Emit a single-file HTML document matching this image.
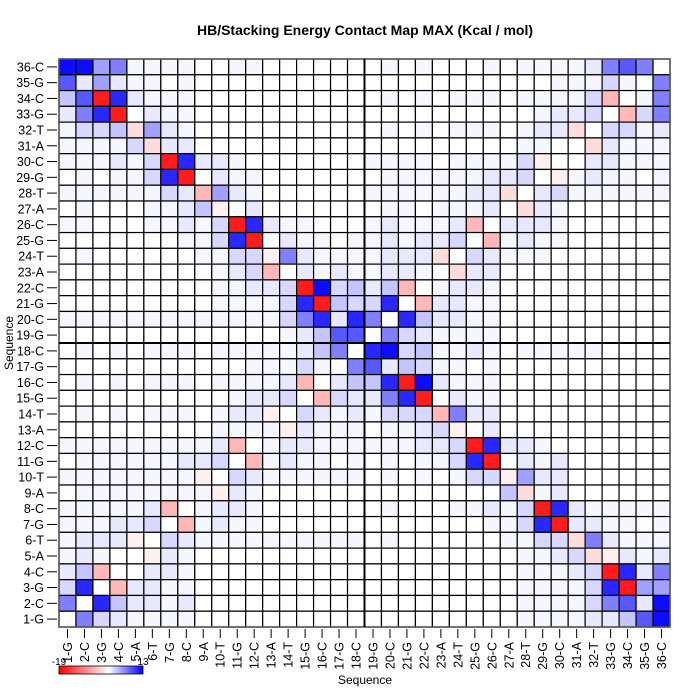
<!DOCTYPE html>
<html><head><meta charset="utf-8"><style>
html,body{margin:0;padding:0;background:#fff}
svg{display:block;font-family:"Liberation Sans",Arial,sans-serif}
</style></head><body>
<svg id="s" width="700" height="700" xmlns="http://www.w3.org/2000/svg">
<defs><linearGradient id="g" x1="0" x2="1" y1="0" y2="0">
<stop offset="0" stop-color="#ff0000"/><stop offset="0.59" stop-color="#ffffff"/><stop offset="1" stop-color="#0000ff"/></linearGradient></defs>
<text x="365" y="35" text-anchor="middle" font-size="14" font-weight="bold">HB/Stacking Energy Contact Map MAX (Kcal / mol)</text>
<text x="365" y="684" text-anchor="middle" font-size="12">Sequence</text>
<text transform="translate(13,343) rotate(-90)" text-anchor="middle" font-size="12">Sequence</text>
<rect x="59" y="666" width="84" height="8" fill="url(#g)" stroke="#000" stroke-width="0.8"/>
<text x="59" y="665" text-anchor="middle" font-size="10">-19</text>
<text x="143" y="665" text-anchor="middle" font-size="10">13</text>
<g id="cells"></g>
</svg>
<script>
var C={'.':'#f6f6ff','w':'#ffffff','v':'#e8e8ff','d':'#d8d8ff','l':'#c4c4ff','m':'#a0a0ff','b':'#8080ff','n':'#5858ff','B':'#2828ff','K':'#0c0cff','R':'#ff1c1c','r':'#ffb8b8','p':'#ffdcdc','q':'#fff0f0'};
var TL=[
"KKmb....ww..wwwwww",
"nvmv..w.wwwwwwwwww",
"lnRBv...wwwwwwwwww",
"vbBRwv..wwwwwwwwww",
".ddlpmv.wwwwwwwwww",
"....dpvvwwwwwwwwww",
"...v.dRBvv.wwwwwww",
"w.w..dBRwv..wwwwww",
"......dvrmv.wwwwww",
"w.www..vlqwvwwwwww",
"..www..v.dRBv..www",
"wwwwwww..dBRwv..w.",
"w.wwwwww..ddqbv...",
"wwwwwwwww.vdrwv.v.",
"wwwwwwwww..vvdRKdl",
"wwwwwwwww....dBRld",
".............dbBvB",
"wwwwwwwwwwwww.vlnn"];
var TR=[
"w.w.www.w....vbnbw",
"wwwwwwwwwww...d.wb",
"w.w.w...w....drw.b",
"wwwwwwwwww.vvdwrdb",
"w.w.w...w.vvpwdd.v",
"wwwwwwwww..wwpv...",
"....w....dqwwvv...",
"w......vvdwq.v..w.",
"......vvpwvd......",
"w..w...vwpv.wwwwww",
".v...vrwvvv.wwwwww",
".v.vvdwr.v..wwwwww",
".vvvpwdv...wwwwwww",
".vv.wpvvwwwwwwwwww",
"vlrw.vv.wwwwwwwwww",
"dBwrvv..wwwwwwwwww",
"bwBlvv..wwwwwwwwww",
"wbdv....wwwwwwwwww"];
var BL=[
"w.w.w...w.....vlbw",
"wwwwwwwwwww...d.wb",
"w.w.w...w....vrwvl",
"wwwwwwwwww.vvdwrdv",
"w.w.w...w.vvqwdv.v",
"wwwwwwwww....qv...",
".........vrw.vv...",
"w......vvdwr.v..w.",
"........qwdv......",
"w........qv.wwwwww",
".....vrw.vv.wwwwww",
"...vvdwr.v..wwwwww",
".vvvqwdv..........",
".v.wwqv.wwwwwwwwww",
"vlrwwvv.wwwwwwwwww",
"dBwrvv..wwwwwwwwww",
"bwBlvv.vwwwwwwwwww",
"wbdv....wwwwwwwwww"];
var BR=[
"BKdl..v.w.....wwww",
"nvld..w.wwwwwwwwww",
"lBRKv...wwwwwwwwww",
"vbBRwv..wwwwwwwwww",
".dddrbvvwwwwwwwwww",
"w..vdqwvwwwwwwwwww",
"...vvdRBvv.wwwwwww",
"w.w..dBRwv.vwwwwww",
"w.w.w.ddqmvvwwwwww",
"wwwwwwwwlp.vwwwwww",
"w.www..v.dRBv.....",
"wwwwwww..dBRvv..w.",
"w.wwwwww..ddpbv...",
"wwwwwwwww..vdpqv.v",
"wwwwwwwww...vdRBvb",
"wwwwwwwww....dBRmm",
"wwwwwwwww....dbnvK",
"wwwwwwwww....vvlnK"];
function get(r,c){var q=r<18?(c<18?TL:TR):(c<18?BL:BR);var s=q[r%18];var ch=s[c%18]||'w';return C[ch]||'#fff';}
var x0=59,y0=59,W=611/36,H=568/36,o='';
for(var r=0;r<36;r++)for(var c=0;c<36;c++){
o+='<rect x="'+(x0+c*W).toFixed(2)+'" y="'+(y0+r*H).toFixed(2)+'" width="'+W.toFixed(2)+'" height="'+H.toFixed(2)+'" fill="'+get(r,c)+'" stroke="#000" stroke-width="1.2"/>';}
o+='<rect x="59" y="59" width="611" height="568" fill="none" stroke="#555" stroke-width="1.5"/>';
o+='<line x1="'+(x0+18*W)+'" y1="59" x2="'+(x0+18*W)+'" y2="627" stroke="#000" stroke-width="2"/>';
o+='<line x1="59" y1="'+(y0+18*H)+'" x2="670" y2="'+(y0+18*H)+'" stroke="#000" stroke-width="2"/>';
var L=["G","C","G","C","A","T","G","C","A","T","G","C","A","T","G","C","G","C","G","C","G","C","A","T","G","C","A","T","G","C","A","T","G","C","G","C"];
for(var i=0;i<36;i++){
 var n=36-i, lab=n+'-'+L[n-1], y=y0+i*H+H/2;
 o+='<line x1="47" y1="'+y+'" x2="57" y2="'+y+'" stroke="#000"/>';
 o+='<text x="44" y="'+(y+4.5)+'" text-anchor="end" font-size="12.5">'+lab+'</text>';
 var x=x0+i*W+W/2, lb=(i+1)+'-'+L[i];
 o+='<line x1="'+x+'" y1="629" x2="'+x+'" y2="638" stroke="#000"/>';
 o+='<text transform="translate('+(x+4.5)+',642) rotate(-90)" text-anchor="end" font-size="12.5">'+lb+'</text>';
}
document.getElementById('cells').innerHTML=o;
</script>
</body></html>
